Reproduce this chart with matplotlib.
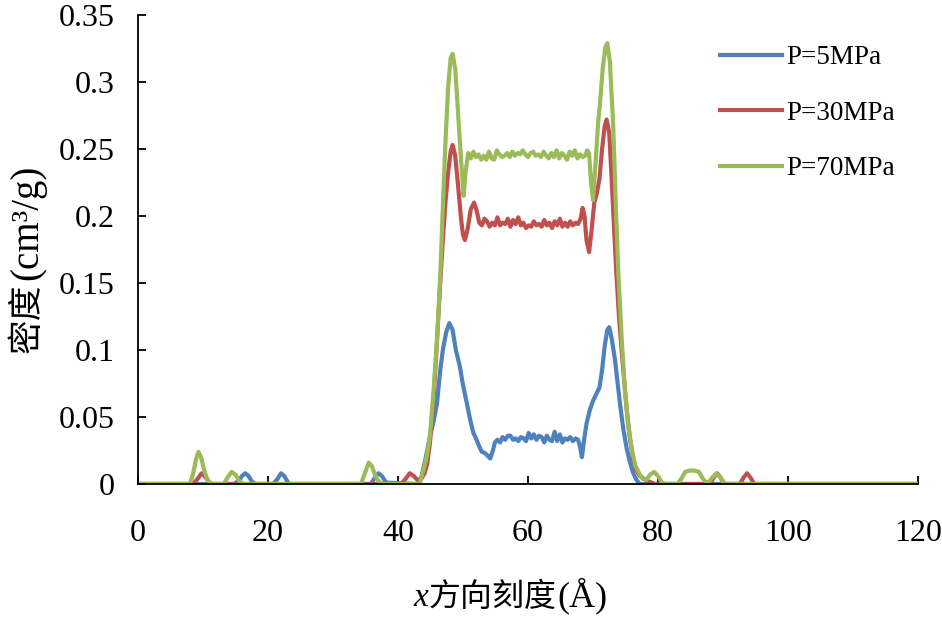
import numpy as np
import matplotlib
matplotlib.use('Agg')
import matplotlib.pyplot as plt

plt.rcParams['font.family'] = ['Liberation Serif', 'Noto Sans CJK SC']

# density profiles along x (Angstrom)
x_5 = [0, 14.8, 15.6, 16.0, 16.5, 17.0, 17.5, 18.0, 20.8, 21.5, 22.0, 22.5, 23.2,
       35.8, 36.5, 37.0, 37.5, 38.2, 43.0, 43.6, 44.2, 44.9, 45.4, 46.0, 46.5,
       46.9, 47.4, 47.9, 48.4, 48.9, 49.5, 50.0, 50.6, 51.1, 51.6, 52.0, 52.5,
       52.9, 53.4, 53.8, 54.2, 54.6, 54.9, 55.3, 55.7, 56.1, 56.5, 56.9, 57.3,
       57.7, 58.1, 58.5, 58.9, 59.3, 59.7, 60.1, 60.5, 60.9, 61.3, 61.7, 62.1,
       62.5, 62.9, 63.3, 63.7, 64.1, 64.5, 64.9, 65.3, 65.7, 66.1, 66.5, 66.9,
       67.3, 67.7, 68.0, 68.3, 68.6, 69.0, 69.5, 70.0, 70.5, 71.0, 71.4, 71.8,
       72.2, 72.5, 72.9, 73.4, 73.8, 74.2, 74.7, 75.2, 75.7, 76.2, 76.7, 77.2, 120]
y_5 = [0, 0, 0.003, 0.006, 0.008, 0.006, 0.002, 0, 0, 0.004, 0.008, 0.006, 0,
       0, 0.005, 0.008, 0.006, 0.001, 0, 0.005, 0.018, 0.035, 0.045, 0.06, 0.085,
       0.1, 0.113, 0.12, 0.115, 0.1, 0.088, 0.074, 0.06, 0.048, 0.038, 0.034, 0.028,
       0.024, 0.023, 0.021, 0.019, 0.025, 0.031, 0.033, 0.031, 0.035, 0.033, 0.036, 0.036,
       0.033, 0.034, 0.032, 0.035, 0.034, 0.032, 0.038, 0.034, 0.037, 0.033, 0.036, 0.035,
       0.031, 0.036, 0.033, 0.032, 0.039, 0.032, 0.037, 0.031, 0.034, 0.033, 0.035, 0.032,
       0.034, 0.033, 0.028, 0.02, 0.032, 0.045, 0.055, 0.062, 0.067, 0.072, 0.085, 0.103,
       0.115, 0.117, 0.108, 0.092, 0.075, 0.058, 0.04, 0.026, 0.016, 0.008, 0.003, 0, 0]

x_30 = [0, 8.5, 9.2, 9.8, 10.4, 11.0, 11.5, 40.5, 41.2, 41.8, 42.4, 43.0, 43.6,
        44.1, 44.5, 44.9, 45.5, 46.0, 46.5, 46.9, 47.3, 47.7, 48.1, 48.4, 48.8,
        49.2, 49.7, 50.0, 50.3, 50.7, 51.2, 51.7, 52.1, 52.5, 52.9, 53.3, 53.7,
        54.1, 54.5, 54.9, 55.3, 55.7, 56.1, 56.5, 56.9, 57.3, 57.7, 58.1, 58.5,
        58.9, 59.3, 59.7, 60.1, 60.5, 60.9, 61.3, 61.7, 62.1, 62.5, 62.9, 63.3,
        63.7, 64.1, 64.5, 64.9, 65.3, 65.7, 66.1, 66.5, 66.9, 67.3, 67.7, 68.1,
        68.4, 68.7, 69.0, 69.4, 69.8, 70.2, 70.6, 71.0, 71.4, 71.8, 72.1, 72.5,
        72.9, 73.3, 73.6, 74.0, 74.4, 74.7, 75.2, 75.7, 76.2, 76.7, 77.2, 77.8,
        78.5, 79.5, 88.0, 88.6, 89.1, 89.6, 90.2, 92.6, 93.2, 93.7, 94.2, 94.8, 120]
y_30 = [0, 0, 0.004, 0.008, 0.005, 0.001, 0, 0, 0.004, 0.008, 0.006, 0.003, 0.004,
        0.008, 0.015, 0.03, 0.065, 0.107, 0.15, 0.182, 0.21, 0.232, 0.248, 0.253, 0.245,
        0.225, 0.198, 0.186, 0.182, 0.19, 0.205, 0.21, 0.204, 0.195, 0.193, 0.198, 0.196,
        0.192, 0.195, 0.193, 0.199, 0.193, 0.195, 0.194, 0.198, 0.192, 0.197, 0.194, 0.199,
        0.193, 0.195, 0.191, 0.193, 0.192, 0.196, 0.193, 0.194, 0.192, 0.197, 0.193, 0.195,
        0.191, 0.196, 0.193, 0.198, 0.192, 0.195, 0.192, 0.196, 0.193, 0.195, 0.194, 0.198,
        0.206, 0.2, 0.182, 0.173, 0.19, 0.21, 0.217, 0.228, 0.25, 0.267, 0.272, 0.262,
        0.225, 0.185, 0.157, 0.125, 0.1, 0.083, 0.055, 0.033, 0.018, 0.01, 0.006, 0.004,
        0.002, 0, 0, 0.005, 0.008, 0.005, 0, 0, 0.005, 0.008, 0.005, 0, 0]

x_70 = [0, 8.0, 8.5, 8.9, 9.3, 9.7, 10.2, 10.7, 11.3, 13.2, 13.8, 14.4, 15.0, 15.6,
        16.2, 34.3, 34.9, 35.5, 36.0, 36.6, 37.2, 37.8, 43.3, 43.9, 44.4, 44.9,
        45.4, 46.0, 46.5, 46.9, 47.3, 47.7, 48.1, 48.4, 48.8, 49.2, 49.5, 49.8,
        50.1, 50.4, 50.8, 51.2, 51.6, 52.0, 52.4, 52.8, 53.2, 53.6, 54.0, 54.4,
        54.8, 55.2, 55.6, 56.0, 56.4, 56.8, 57.2, 57.6, 58.0, 58.4, 58.8, 59.2,
        59.6, 60.0, 60.4, 60.8, 61.2, 61.6, 62.0, 62.4, 62.8, 63.2, 63.6, 64.0,
        64.4, 64.8, 65.2, 65.6, 66.0, 66.4, 66.8, 67.2, 67.6, 68.0, 68.4, 68.8,
        69.1, 69.4, 69.7, 70.0, 70.4, 70.8, 71.1, 71.5, 71.9, 72.2, 72.6, 73.1,
        73.5, 73.9, 74.4, 74.9, 75.4, 76.0, 76.5, 77.2, 77.6, 78.2, 78.8, 79.4,
        80.0, 80.6, 81.2, 83.0, 83.6, 84.2, 84.8, 85.6, 86.3, 86.9, 87.4, 87.9,
        88.4, 89.0, 89.6, 90.3, 120]
y_70 = [0, 0, 0.008, 0.018, 0.024, 0.02, 0.01, 0.003, 0, 0, 0.005, 0.009, 0.007, 0.002,
        0, 0, 0.008, 0.016, 0.013, 0.005, 0.001, 0, 0, 0.01, 0.02, 0.035,
        0.065, 0.107, 0.155, 0.207, 0.255, 0.295, 0.318, 0.321, 0.31, 0.28, 0.257, 0.235,
        0.215, 0.233, 0.247, 0.243, 0.248, 0.244, 0.246, 0.242, 0.245, 0.242, 0.248, 0.243,
        0.242, 0.249, 0.246, 0.244, 0.245, 0.247, 0.244, 0.248, 0.245, 0.247, 0.246, 0.249,
        0.246, 0.244, 0.247, 0.248, 0.245, 0.246, 0.244, 0.248, 0.245, 0.243, 0.247, 0.244,
        0.249, 0.243, 0.247, 0.245, 0.242, 0.248, 0.245, 0.249, 0.243, 0.246, 0.244, 0.245,
        0.249, 0.247, 0.225, 0.212, 0.24, 0.27, 0.285, 0.31, 0.326, 0.329, 0.315, 0.269,
        0.21, 0.157, 0.11, 0.07, 0.045, 0.025, 0.014, 0.007, 0.004, 0.003, 0.007, 0.009,
        0.006, 0.001, 0, 0, 0.004, 0.009, 0.01, 0.01, 0.009, 0.004, 0.001, 0.002,
        0.005, 0.008, 0.005, 0, 0]

labels = ['P=5MPa', 'P=30MPa', 'P=70MPa']
colors = ['#4F81BD', '#C0504D', '#9BBB59']

fig = plt.figure(figsize=(9.42, 6.17), dpi=100)
ax = fig.add_axes([0.1465, 0.2156, 0.828, 0.7601])

for xs, ys, lab, c in zip([x_5, x_30, x_70], [y_5, y_30, y_70], labels, colors):
    ax.plot(xs, ys, color=c, lw=3.0, label=lab, solid_joinstyle='round')

ax.set_xlim(0, 120)
ax.set_ylim(0, 0.35)
ax.set_xticks(np.arange(0, 121, 20))
ax.set_yticks(np.arange(0, 0.351, 0.05))
ax.set_yticklabels(['0', '0.05', '0.1', '0.15', '0.2', '0.25', '0.3', '0.35'])
ax.spines['top'].set_visible(False)
ax.spines['right'].set_visible(False)
for s in ['left', 'bottom']:
    ax.spines[s].set_linewidth(1.3)
ax.tick_params(direction='in', length=6, width=1.3, labelsize=23)
ax.tick_params(axis='x', pad=25)
ax.tick_params(axis='y', pad=17)

# y label
fig.text(28 / 942, 1 - 318 / 617, '密度', fontsize=25, rotation=90, ha='center', va='center')
fig.text(28 / 942, 1 - 222 / 617, '(cm³/g)', fontsize=28, rotation=90, ha='center', va='center')

# x label: italic x, CJK text, then (Å)
base_y = 1 - 606 / 617
fig.text(428 / 942, base_y, 'x', fontsize=24, style='italic', ha='right', va='baseline')
fig.text(429 / 942, base_y, '方向刻度', fontsize=23, ha='left', va='baseline')
fig.text(557 / 942, base_y, '(Å)', fontsize=26, ha='left', va='baseline')

ax.legend(loc='upper left', bbox_to_anchor=(0.746, 0.935), frameon=False, fontsize=19.5,
          handlelength=2.3, handletextpad=0.15, labelspacing=1.12,
          borderpad=0, borderaxespad=0)

fig.savefig('out.png', dpi=100)
